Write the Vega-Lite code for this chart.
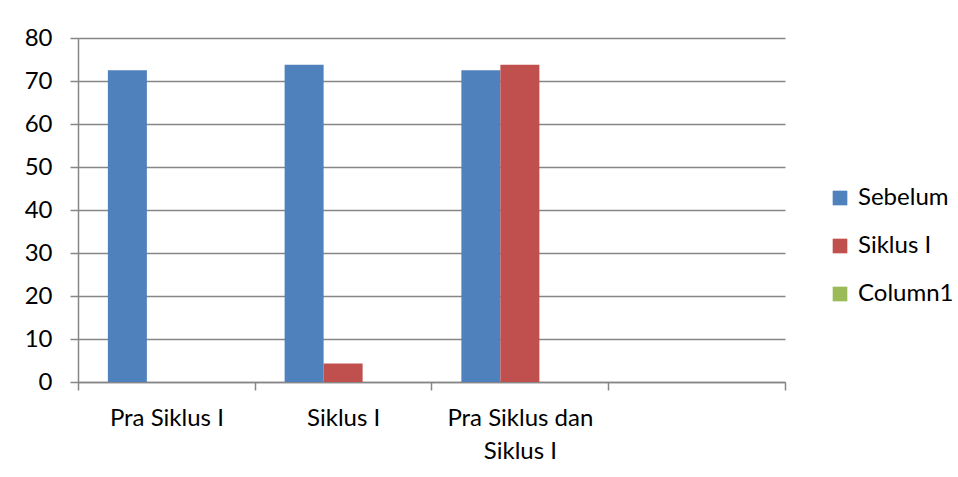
{
  "$schema": "https://vega.github.io/schema/vega-lite/v6.json",
  "width": 707,
  "height": 344,
  "autosize": {"type": "none"},
  "padding": {"left": 78, "top": 38, "right": 173, "bottom": 95},
  "background": "white",
  "config": {"view": {"stroke": null}, "font": "Lato"},
  "data": {
    "values": [
      {"Kategori": "Pra Siklus I", "Seri": "Sebelum", "Nilai": 72.5},
      {"Kategori": "Siklus I", "Seri": "Sebelum", "Nilai": 73.8},
      {"Kategori": "Siklus I", "Seri": "Siklus I", "Nilai": 4.3},
      {"Kategori": "Pra Siklus dan Siklus I", "Seri": "Sebelum", "Nilai": 72.5},
      {"Kategori": "Pra Siklus dan Siklus I", "Seri": "Siklus I", "Nilai": 73.8}
    ]
  },
  "mark": {"type": "bar"},
  "encoding": {
    "x": {
      "field": "Kategori",
      "type": "nominal",
      "sort": null,
      "scale": {
        "domain": ["Pra Siklus I", "Siklus I", "Pra Siklus dan Siklus I", ""],
        "paddingInner": 0.338,
        "paddingOuter": 0.169
      },
      "axis": {
        "title": null,
        "labelAngle": 0,
        "bandPosition": 1.5107,
        "tickOffset": -29.9,
        "tickExtra": true,
        "labelOffset": 29.9,
        "labelExpr": "datum.label == 'Pra Siklus dan Siklus I' ? ['Pra Siklus dan', 'Siklus I'] : datum.label",
        "labelFont": "Lato",
        "labelFontSize": 24,
        "labelColor": "#000000",
        "labelPadding": 16,
        "labelLineHeight": 33,
        "tickSize": 8,
        "tickColor": "#868686",
        "tickWidth": 1.5,
        "domainColor": "#868686",
        "domainWidth": 1.5,
        "grid": false
      }
    },
    "xOffset": {
      "field": "Seri",
      "type": "nominal",
      "scale": {"domain": ["Sebelum", "Siklus I", "Column1"], "paddingInner": 0, "paddingOuter": 0}
    },
    "y": {
      "field": "Nilai",
      "type": "quantitative",
      "scale": {"domain": [0, 80], "nice": false},
      "axis": {
        "title": null,
        "values": [0, 10, 20, 30, 40, 50, 60, 70, 80],
        "grid": true,
        "gridColor": "#868686",
        "gridWidth": 1.5,
        "tickSize": 8,
        "tickColor": "#868686",
        "tickWidth": 1.5,
        "domainColor": "#868686",
        "domainWidth": 1.5,
        "labelFont": "Lato",
        "labelFontSize": 24,
        "labelColor": "#000000",
        "labelPadding": 18
      }
    },
    "color": {
      "field": "Seri",
      "type": "nominal",
      "scale": {"domain": ["Sebelum", "Siklus I", "Column1"], "range": ["#4F81BD", "#C0504D", "#9BBB59"]},
      "legend": {
        "title": null,
        "orient": "none",
        "legendX": 750,
        "legendY": 148,
        "symbolType": "square",
        "symbolSize": 215,
        "symbolStrokeWidth": 0,
        "labelFont": "Lato",
        "labelFontSize": 24,
        "labelColor": "#000000",
        "labelOffset": 6,
        "rowPadding": 24
      }
    }
  }
}
